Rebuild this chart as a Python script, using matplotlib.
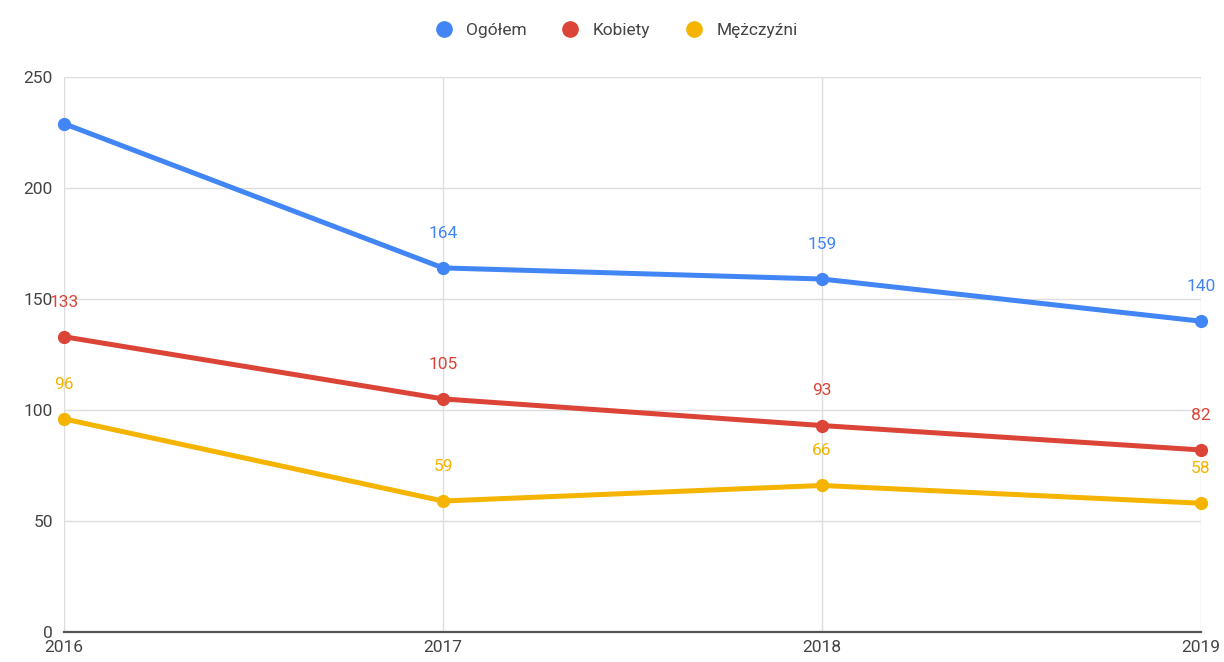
import matplotlib
matplotlib.use("Agg")
import matplotlib.pyplot as plt
from matplotlib.lines import Line2D

years = ["2016", "2017", "2018", "2019"]
ogolem = [229, 164, 159, 140]
kobiety = [133, 105, 93, 82]
mezczyzni = [96, 59, 66, 58]
series_names = ["Ogółem", "Kobiety", "Mężczyźni"]
# which points carry a data label
show_labels = [[False, True, True, True], [True, True, True, True], [True, True, True, True]]

colors = ["#4285F4", "#DB4437", "#F4B400"]
plt.rcParams['font.family'] = ['Roboto', 'DejaVu Sans']

fig = plt.figure(figsize=(12.24, 6.62), dpi=100)
ax = fig.add_axes([64/1224, 30/662, (1201-64)/1224, (632-77)/662])

x = list(range(len(years)))
for vals, name, col, show in zip([ogolem, kobiety, mezczyzni], series_names, colors, show_labels):
    ax.plot(x, vals, color=col, lw=3.6, marker='o', ms=8.5, solid_capstyle='round', zorder=3, clip_on=False)
    for xi, v, s in zip(x, vals, show):
        if s:
            ax.annotate(str(v), (xi, v), xytext=(0, 25), textcoords='offset points',
                        ha='center', va='center', color=col, fontsize=12.5, zorder=4)

ax.set_xlim(0, len(years) - 1)
ax.set_ylim(0, 250)
ax.set_yticks([0, 50, 100, 150, 200, 250])
ax.set_xticks(x)
ax.set_xticklabels(years)
ax.grid(True, color='#dddddd', lw=1)
ax.set_axisbelow(True)
for s in ['top', 'right', 'left']:
    ax.spines[s].set_visible(False)
ax.spines['bottom'].set_color('#555555')
ax.spines['bottom'].set_linewidth(1.6)
ax.tick_params(axis='both', length=0, labelsize=12.5, colors='#444444')
ax.tick_params(axis='y', pad=8)
ax.tick_params(axis='x', pad=6)

handles = [Line2D([], [], color=c, marker='o', ls='none', ms=11) for c in colors]
fig.legend(handles, series_names, loc='center', bbox_to_anchor=(0.5, 1 - 30/662), ncol=3,
           frameon=False, fontsize=12.5, handletextpad=0.3, columnspacing=1.5,
           labelcolor='#444444')

fig.savefig("out.png", dpi=100, facecolor='white')
